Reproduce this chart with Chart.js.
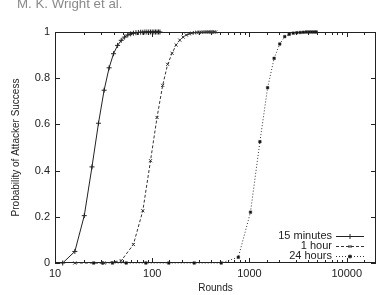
<!DOCTYPE html>
<html>
<head>
<meta charset="utf-8">
<script src="https://cdn.jsdelivr.net/npm/chart.js@4.4.0/dist/chart.umd.min.js"></script>
<style>
body{margin:0;background:#fff;}
#wrap{position:relative;width:381px;height:295px;overflow:hidden;}
#hdr{position:absolute;left:17px;top:-3px;font:13.3px Arial,"Liberation Sans",sans-serif;line-height:1;color:#8a8a8a;white-space:nowrap;}
canvas{position:absolute;left:0;top:0;}
</style>
</head>
<body>
<div id="wrap">
<canvas id="c" width="381" height="295"></canvas>
<div id="hdr">M. K. Wright et al.</div>
</div>
<script>
// rounds and success probability
const seriesNames = ['15 minutes', '1 hour', '24 hours'];

const rounds15 = [12,16,20,24,28,32,36,40,44,48,52,56,60,64,68,72,76,80,84,88,92,96,100,104,108,112,116,120];
const prob15 = [0,0.05,0.205,0.416,0.605,0.748,0.845,0.906,0.942,0.964,0.978,0.987,0.992,0.995,0.997,0.998,0.999,0.999,1,1,1,1,1,1,1,1,1,1];

const rounds1h = [16,32,48,64,80,96,112,128,144,160,176,192,208,224,240,256,272,288,304,320,336,352,368,384,400,416,432,448];
const prob1h = [0,0,0.01,0.08,0.226,0.443,0.63,0.769,0.86,0.908,0.944,0.965,0.978,0.987,0.992,0.995,0.997,0.998,0.999,0.999,1,1,1,1,1,1,1,1];

const rounds24h = [25,31,39,54,86,148,270,512,768,1024,1280,1536,1792,2048,2304,2560,2816,3072,3328,3584,3840,4096,4352,4608,4864];
const prob24h = [0,0,0,0,0,0,0,0,0.025,0.22,0.525,0.759,0.886,0.948,0.98,0.99,0.995,0.997,0.998,0.999,1,1,1,1,1];

const xTickLabels = [10, 100, 1000, 10000];

function pts(xs, ys){
    return xs.map((v, i) => ({x: v, y: ys[i]}))
}

const font = 'Arial, "Liberation Sans", sans-serif';

// gnuplot style frame with inward ticks on all sides
const frame = {
    id: 'frame',
    beforeDatasetsDraw(chart){
        const {ctx, chartArea: a, scales: {x, y}} = chart;
        ctx.save();
        ctx.strokeStyle = '#222';
        ctx.lineWidth = 1;
        ctx.strokeRect(a.left + 0.5, a.top + 0.5, a.right - a.left - 1, a.bottom - a.top - 1);
        ctx.beginPath();
        x.ticks.forEach(t => {
            if (t.value >= x.max) return;
            const px = Math.round(x.getPixelForValue(t.value)) + 0.5;
            const major = xTickLabels.includes(t.value);
            const len = major ? 5 : 3;
            ctx.moveTo(px, a.bottom); ctx.lineTo(px, a.bottom - len);
            ctx.moveTo(px, a.top); ctx.lineTo(px, a.top + len);
        });
        y.ticks.forEach(t => {
            const py = Math.round(y.getPixelForValue(t.value)) + 0.5;
            ctx.moveTo(a.left, py); ctx.lineTo(a.left + 5, py);
            ctx.moveTo(a.right, py); ctx.lineTo(a.right - 5, py);
        });
        ctx.stroke();
        ctx.restore();
    }
};

// key in the lower right corner: text, then line sample with marker
const key = {
    id: 'key',
    afterDatasetsDraw(chart){
        const {ctx, chartArea: a} = chart;
        ctx.save();
        ctx.font = '11px ' + font;
        ctx.textAlign = 'right';
        ctx.textBaseline = 'middle';
        chart.data.datasets.forEach((ds, i) => {
            const yy = a.bottom - 27 + i * 9.8;
            ctx.fillStyle = '#222';
            ctx.fillText(ds.label, a.right - 44, yy);
            ctx.strokeStyle = ds.borderColor;
            ctx.lineWidth = 1;
            ctx.setLineDash(ds.borderDash || []);
            ctx.beginPath();
            ctx.moveTo(a.right - 40, Math.round(yy) + 0.5);
            ctx.lineTo(a.right - 12, Math.round(yy) + 0.5);
            ctx.stroke();
            ctx.setLineDash([]);
            ctx.fillStyle = ds.backgroundColor;
            Chart.helpers.drawPoint(ctx, {
                pointStyle: ds.pointStyle, radius: ds.pointRadius, borderWidth: 1
            }, a.right - 26, Math.round(yy) + 0.5);
        });
        ctx.restore();
    }
};

const data = {
    datasets: [{
        label: seriesNames[0],
        data: pts(rounds15, prob15),
        showLine: true,
        clip: 6,
        borderColor: '#222',
        backgroundColor: '#222',
        borderWidth: 1,
        pointStyle: 'cross',
        pointRadius: 2.5,
        pointBorderWidth: 1
    }, {
        label: seriesNames[1],
        data: pts(rounds1h, prob1h),
        showLine: true,
        clip: 6,
        borderColor: '#333',
        backgroundColor: '#333',
        borderWidth: 1,
        borderDash: [3, 2],
        pointStyle: 'crossRot',
        pointRadius: 2.2,
        pointBorderWidth: 1
    }, {
        label: seriesNames[2],
        data: pts(rounds24h, prob24h),
        showLine: true,
        clip: 6,
        borderColor: '#333',
        backgroundColor: '#111',
        borderWidth: 1,
        borderDash: [1, 2],
        pointStyle: 'rect',
        pointRadius: 1.8,
        pointBorderWidth: 0.5
    }]
};

const config = {
    type: 'scatter',
    data: data,
    options: {
        responsive: false,
        animation: false,
        layout: {padding: {top: 32, right: 2, left: 0, bottom: 0}},
        plugins: {legend: {display: false}, tooltip: {enabled: false}},
        scales: {
            x: {
                type: 'logarithmic',
                min: 10,
                max: 20000,
                grid: {display: false, drawTicks: false},
                border: {display: false},
                ticks: {
                    autoSkip: false,
                    maxRotation: 0,
                    padding: 4,
                    color: '#222',
                    font: {size: 11, family: font},
                    callback: v => xTickLabels.includes(v) ? String(v) : ''
                },
                title: {display: true, text: 'Rounds', color: '#222', font: {size: 10, family: font}, padding: {top: 0, bottom: 1}},
                afterFit: s => { s.height = 32 }
            },
            y: {
                min: 0,
                max: 1,
                grid: {display: false, drawTicks: false},
                border: {display: false},
                ticks: {
                    stepSize: 0.2,
                    padding: 5,
                    color: '#222',
                    font: {size: 11, family: font},
                    callback: v => String(Number(v.toFixed(1)))
                },
                title: {display: true, text: 'Probability of Attacker Success', color: '#222', font: {size: 10, family: font}, padding: {top: 10, bottom: 0}},
                afterFit: s => { s.width = 55 }
            }
        }
    },
    plugins: [frame, key]
};

let ctx = document.getElementById('c').getContext('2d')
new Chart(ctx, config)
</script>
</body>
</html>
